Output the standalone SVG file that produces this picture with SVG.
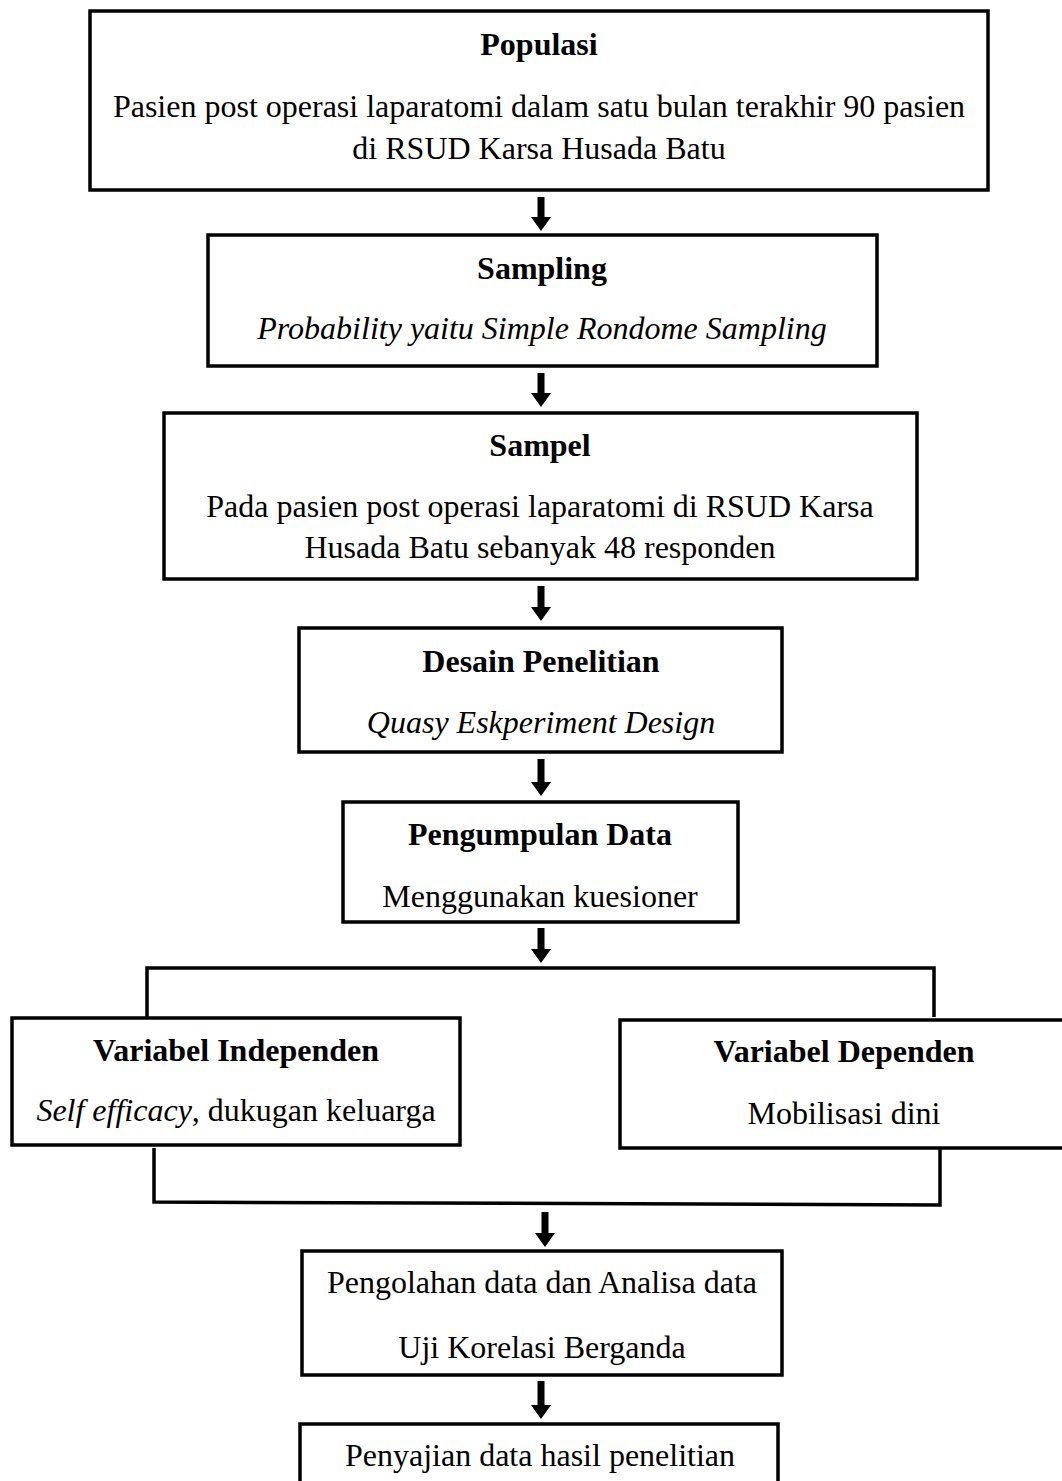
<svg xmlns="http://www.w3.org/2000/svg" width="1062" height="1481" viewBox="0 0 1062 1481">
<style>
.box{fill:#fff;stroke:#000;stroke-width:3.5}
.t{font-family:"Liberation Serif","Times New Roman",serif;font-size:32px;fill:#000;text-anchor:middle}
.b{font-weight:bold}
.i{font-style:italic}
.ar{fill:#000;stroke:none}
.ln{fill:none;stroke:#000;stroke-width:3.5}
</style>
<rect width="1062" height="1481" fill="#fff"/>
<g id="connectors">
<path class="ar" d="M537.5 197h7v20h6.5l-10 14l-10-14h6.5z"/>
<path class="ar" d="M537.5 373h7v20h6.5l-10 14l-10-14h6.5z"/>
<path class="ar" d="M537.5 586h7v21h6.5l-10 14l-10-14h6.5z"/>
<path class="ar" d="M537.5 759h7v23h6.5l-10 14l-10-14h6.5z"/>
<path class="ar" d="M537.5 928h7v21h6.5l-10 14l-10-14h6.5z"/>
<path class="ln" d="M147 1017V968H934V1017"/>
<path class="ln" d="M154 1148V1202L940 1205V1149"/>
<path class="ar" d="M541.5 1212h7v21h6.5l-10 14l-10-14h6.5z"/>
<path class="ar" d="M537.5 1381h7v24h6.5l-10 14l-10-14h6.5z"/>
</g>
<g id="populasi">
<rect class="box" x="90" y="11" width="898" height="179"/>
<text class="t b" x="539" y="55">Populasi</text>
<text class="t" x="539" y="117">Pasien post operasi laparatomi dalam satu bulan terakhir 90 pasien</text>
<text class="t" x="539" y="159">di RSUD Karsa Husada Batu</text>
</g>
<g id="sampling">
<rect class="box" x="208" y="235" width="669" height="131"/>
<text class="t b" x="542" y="279">Sampling</text>
<text class="t i" x="542" y="339">Probability yaitu Simple Rondome Sampling</text>
</g>
<g id="sampel">
<rect class="box" x="164" y="413" width="753" height="166"/>
<text class="t b" x="540" y="456">Sampel</text>
<text class="t" x="540" y="517">Pada pasien post operasi laparatomi di RSUD Karsa</text>
<text class="t" x="540" y="558">Husada Batu sebanyak 48 responden</text>
</g>
<g id="desain">
<rect class="box" x="299" y="628" width="483" height="124"/>
<text class="t b" x="541" y="672">Desain Penelitian</text>
<text class="t i" x="541" y="733">Quasy Eskperiment Design</text>
</g>
<g id="pengumpulan">
<rect class="box" x="343" y="802" width="395" height="120"/>
<text class="t b" x="540" y="845">Pengumpulan Data</text>
<text class="t" x="540" y="907">Menggunakan kuesioner</text>
</g>
<g id="independen">
<rect class="box" x="12" y="1018" width="448" height="127"/>
<text class="t b" x="236" y="1061">Variabel Independen</text>
<text class="t" x="236" y="1121"><tspan class="i">Self efficacy</tspan>, dukugan keluarga</text>
</g>
<g id="dependen">
<rect class="box" x="620" y="1020" width="450" height="128"/>
<text class="t b" x="844" y="1062">Variabel Dependen</text>
<text class="t" x="844" y="1124">Mobilisasi dini</text>
</g>
<g id="pengolahan">
<rect class="box" x="302" y="1251" width="480" height="124"/>
<text class="t" x="542" y="1293">Pengolahan data dan Analisa data</text>
<text class="t" x="542" y="1358">Uji Korelasi Berganda</text>
</g>
<g id="penyajian">
<rect class="box" x="300" y="1424" width="478" height="80"/>
<text class="t" x="540" y="1466">Penyajian data hasil penelitian</text>
</g>
</svg>
